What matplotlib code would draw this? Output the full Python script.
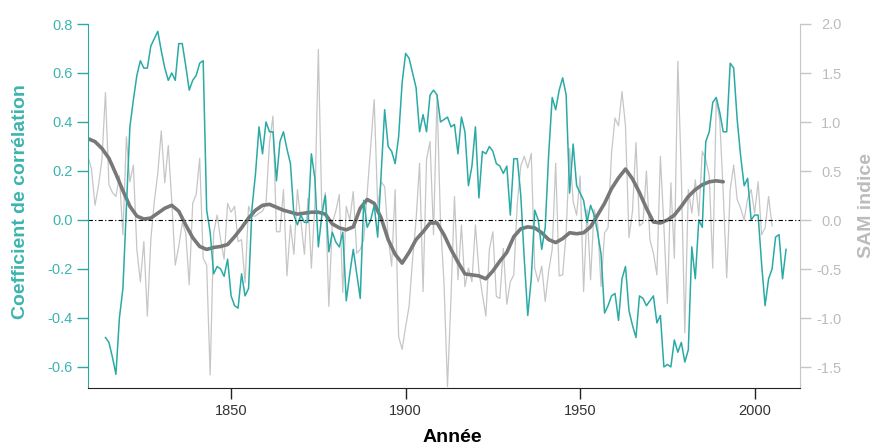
import numpy as np
import matplotlib.pyplot as plt
from matplotlib.ticker import FormatStrFormatter

plt.rcParams['font.family'] = ['Liberation Sans', 'DejaVu Sans']
plt.rcParams['axes.unicode_minus'] = False

# %% Couleurs
TEAL = '#2aaaa5'
TEAL_TXT = '#3cb4af'
GRAY = '#c6c6c6'
GRAY_TXT = '#bcbcbc'
DARK = '#787878'

# %% Donnees
# indice SAM annuel, 1809-2005
sam_start = 1809
sam_annual = [
    0.65, 0.52, 0.15, 0.35, 0.62, 1.30, 0.36, 0.28, 0.24, 0.45,        # 1809-1818
    -0.15, 0.85, 0.39, 0.56, -0.30, -0.63, -0.22, -0.98, -0.20, 0.19,   # 1819-1828
    0.48, 0.91, 0.38, 0.76, 0.19, -0.46, -0.27, -0.03, -0.13, -0.66,    # 1829-1838
    0.17, 0.26, 0.63, -0.39, -0.46, -1.58, -0.13, 0.05, -0.20, -0.40,   # 1839-1848
    0.17, 0.08, 0.14, -0.22, -0.20, -0.64, 0.14, 0.04, 0.04, 0.07,      # 1849-1858
    0.09, 0.17, 0.79, 1.06, -0.12, -0.12, 0.31, -0.57, -0.05, -0.35,    # 1859-1868
    0.31, -0.01, -0.35, 0.22, -0.49, 0.16, 1.74, 0.09, 0.28, -0.88,     # 1869-1878
    -0.03, 0.09, 0.26, -0.74, 0.14, 0.00, 0.29, -0.34, -0.30, -0.20,    # 1879-1888
    0.28, 0.75, 1.23, 0.14, 0.39, 0.34, -0.17, -0.47, 0.31, -1.19,      # 1889-1898
    -1.32, -1.09, -0.88, -0.40, 0.00, 0.58, -0.73, 0.62, 0.80, -0.15,   # 1899-1908
    1.28, -0.03, -0.64, -1.70, -0.80, 0.24, -0.61, -0.05, -0.68, -0.49, # 1909-1918
    -0.63, -0.05, -0.52, -0.76, -0.98, -0.30, -0.12, -0.78, -0.80, -0.29,  # 1919-1928
    -0.86, -0.63, -0.56, 0.17, 0.55, 0.65, 0.53, 0.68, -0.49, -0.63,    # 1929-1938
    -0.47, -0.83, -0.52, -0.30, 0.58, -0.57, -0.56, -0.13, 0.73, 0.19,  # 1939-1948
    0.05, 0.45, -0.73, 0.11, -0.61, 0.11, -0.03, -0.68, -0.13, -0.08,   # 1949-1958
    0.68, 1.04, 0.96, 1.31, 0.96, -0.18, 0.09, 0.79, -0.06, -0.03,      # 1959-1968
    0.50, -0.20, -0.34, -0.56, 0.65, -0.06, -0.85, 0.38, -0.39, 1.62,   # 1969-1978
    0.45, -1.15, 0.31, 0.07, 0.41, 0.04, 0.70, 0.62, 0.45, -0.49,       # 1979-1988
    1.23, 1.02, 0.28, -0.59, 0.31, 0.56, 0.21, 0.12, 0.00, 0.22,        # 1989-1998
    0.31, 0.07, 0.39, -0.15, -0.08, 0.24, -0.06,                        # 1999-2005
]

# coefficient de correlation glissant, 1814-2009
corr_start = 1814
correlation = [
    -0.48, -0.50, -0.56, -0.63, -0.40, -0.28, 0.05, 0.38, 0.49, 0.59,   # 1814-1823
    0.65, 0.62, 0.62, 0.71, 0.74, 0.77, 0.69, 0.62, 0.57, 0.60,         # 1824-1833
    0.57, 0.72, 0.72, 0.63, 0.53, 0.57, 0.59, 0.64, 0.65, 0.04,         # 1834-1843
    -0.05, -0.22, -0.19, -0.20, -0.23, -0.16, -0.31, -0.35, -0.36, -0.22,  # 1844-1853
    -0.31, -0.28, 0.05, 0.19, 0.38, 0.27, 0.40, 0.36, 0.36, 0.16,       # 1854-1863
    0.32, 0.36, 0.29, 0.23, 0.02, -0.02, 0.02, -0.01, -0.01, 0.27,      # 1864-1873
    0.17, -0.11, 0.02, 0.10, -0.13, -0.05, -0.09, -0.11, -0.05, -0.33,  # 1874-1883
    -0.22, -0.12, -0.22, -0.32, 0.08, -0.03, 0.00, 0.06, -0.07, 0.19,   # 1884-1893
    0.45, 0.30, 0.28, 0.23, 0.34, 0.56, 0.68, 0.66, 0.60, 0.54,         # 1894-1903
    0.36, 0.43, 0.36, 0.51, 0.53, 0.51, 0.40, 0.41, 0.42, 0.38,         # 1904-1913
    0.39, 0.27, 0.42, 0.36, 0.14, 0.22, 0.38, 0.09, 0.28, 0.27,         # 1914-1923
    0.30, 0.28, 0.23, 0.22, 0.19, 0.22, 0.02, 0.25, 0.25, 0.10,         # 1924-1933
    -0.16, -0.39, -0.24, 0.04, 0.00, -0.12, -0.03, 0.27, 0.50, 0.45,    # 1934-1943
    0.53, 0.58, 0.51, 0.11, 0.31, 0.14, 0.11, 0.08, -0.01, 0.06,        # 1944-1953
    0.02, -0.05, -0.14, -0.38, -0.35, -0.31, -0.30, -0.41, -0.24, -0.19,  # 1954-1963
    -0.37, -0.43, -0.48, -0.31, -0.32, -0.35, -0.33, -0.31, -0.42, -0.39,  # 1964-1973
    -0.60, -0.59, -0.60, -0.49, -0.54, -0.50, -0.58, -0.53, -0.11, -0.24,  # 1974-1983
    0.00, -0.03, 0.32, 0.36, 0.48, 0.50, 0.44, 0.36, 0.36, 0.64,        # 1984-1993
    0.62, 0.41, 0.26, 0.14, 0.17, 0.00, 0.02, 0.02, -0.18, -0.35,       # 1994-2003
    -0.24, -0.20, -0.07, -0.06, -0.24, -0.12,                           # 2004-2009
]

# SAM lisse, une valeur tous les 2 ans, 1809-1991
smooth_years = list(range(1809, 1992, 2))
sam_smooth = [
    0.83, 0.80, 0.73, 0.63, 0.47, 0.30, 0.14, 0.04, 0.01, 0.02,
    0.07, 0.12, 0.15, 0.09, -0.05, -0.18, -0.27, -0.30, -0.28, -0.27,
    -0.25, -0.17, -0.08, 0.02, 0.10, 0.15, 0.16, 0.13, 0.10, 0.08,
    0.06, 0.07, 0.08, 0.08, 0.06, -0.04, -0.08, -0.10, -0.07, 0.12,
    0.21, 0.17, 0.02, -0.20, -0.35, -0.44, -0.33, -0.20, -0.12, -0.03,
    -0.03, -0.15, -0.30, -0.43, -0.55, -0.56, -0.57, -0.60, -0.52, -0.42,
    -0.33, -0.17, -0.09, -0.07, -0.08, -0.13, -0.20, -0.23, -0.19, -0.13,
    -0.14, -0.13, -0.07, 0.05, 0.17, 0.32, 0.43, 0.52, 0.42, 0.28,
    0.12, -0.02, -0.03, 0.00, 0.05, 0.14, 0.24, 0.31, 0.36, 0.39,
    0.40, 0.39,
]

corr_ticks = [-0.6, -0.4, -0.2, 0.0, 0.2, 0.4, 0.6, 0.8]
sam_ticks = [-1.5, -1.0, -0.5, 0.0, 0.5, 1.0, 1.5, 2.0]
year_ticks = [1850, 1900, 1950, 2000]

sam_years = np.arange(sam_start, sam_start + len(sam_annual))
corr_years = np.arange(corr_start, corr_start + len(correlation))

# %% Figure
fig = plt.figure(figsize=(8.77, 4.48), dpi=100)
ax = fig.add_axes([88 / 877, 60 / 448, 712 / 877, 364 / 448])
ax2 = ax.twinx()

# SAM (axe droit)
ax2.plot(sam_years, sam_annual, color=GRAY, lw=0.9)
ax2.plot(smooth_years, sam_smooth, color=DARK, lw=2.6,
         solid_joinstyle='round', solid_capstyle='round')
ax2.set_ylim(-1.714, 2.0)

# correlation (axe gauche), dessinee au-dessus
ax.set_zorder(ax2.get_zorder() + 1)
ax.patch.set_visible(False)
ax.plot(corr_years, correlation, color=TEAL, lw=1.1)
ax.axhline(0, color='black', lw=0.8, ls=(0, (4, 2, 1, 2)))
ax.set_xlim(1809, 2013)
ax.set_ylim(-0.686, 0.8)

# %% Axes et graduations
ax.set_xticks(year_ticks)
ax.set_yticks(corr_ticks)
ax.yaxis.set_major_formatter(FormatStrFormatter('%.1f'))
ax2.set_yticks(sam_ticks)
ax2.yaxis.set_major_formatter(FormatStrFormatter('%.1f'))

for s in ['top', 'right']:
    ax.spines[s].set_visible(False)
ax.spines['left'].set_color(TEAL)
ax.spines['bottom'].set_color('#222222')
for s in ['top', 'left', 'bottom']:
    ax2.spines[s].set_visible(False)
ax2.spines['right'].set_color(GRAY)

ax.tick_params(axis='x', length=7.7, width=1, color='#222222',
               labelcolor='#333333', labelsize=10.5, pad=3.5)
ax.tick_params(axis='y', length=7.7, width=1, color=TEAL,
               labelcolor=TEAL_TXT, labelsize=10.5, pad=3.3)
ax2.tick_params(axis='y', length=7.7, width=1, color=GRAY,
                labelcolor=GRAY_TXT, labelsize=10.5, pad=22.3)
for tick in ax2.yaxis.get_major_ticks():
    tick.label2.set_horizontalalignment('right')

ax.set_ylabel('Coefficient de corrélation', color=TEAL_TXT,
              fontsize=14, fontweight='bold')
ax.yaxis.set_label_coords(-0.083, 0.512)
ax2.set_ylabel('SAM indice', color=GRAY_TXT, fontsize=14, fontweight='bold')
ax2.yaxis.set_label_coords(1.081, 0.501)
ax.set_xlabel('Année', fontsize=14, fontweight='bold', color='black')
ax.xaxis.set_label_coords(0.511, -0.113)

fig.savefig('out.png', dpi=100)
